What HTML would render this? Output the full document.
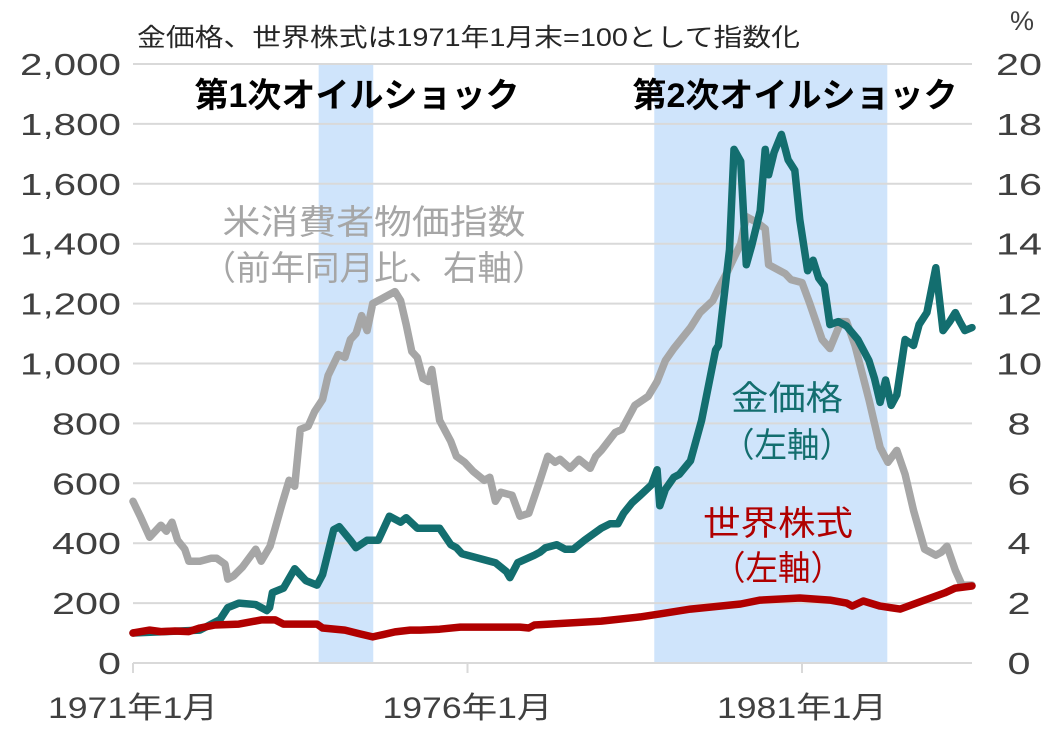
<!DOCTYPE html>
<html><head><meta charset="utf-8">
<style>
html,body{margin:0;padding:0;background:#fff;}
svg{display:block;font-family:"Liberation Sans","Noto Sans CJK JP",sans-serif;}
</style></head>
<body>
<svg id="chart" width="1052" height="729" viewBox="0 0 1052 729" xmlns="http://www.w3.org/2000/svg">
<g id="bands"></g>
<g id="grid"></g>
<g id="axes"></g>
<g id="series"></g>
<g id="labels"></g>
</svg>
<script>
// months since Jan 1971
const goldMonths=[0,12,15.6,17,19,22,24,24.5,25,27,29,31,33,34,36,37,39,40,42,44,46,48,49,51,55,57,58,59,60,65,67,67.6,69,72,73,74,76,77.5,79,81,84,85.6,87,88,89.5,91,93,94,94.5,95.5,97,98,100,102,104.5,105,107,107.8,109,110,111,112.5,113.4,114,115,116.3,117.5,118.7,119.6,121,122,123,124,125,126.5,128,130,132,133,134,135,136,137,138.5,140,141,142.4,144,145.3,146.5,147.5,148.3,149.2,150.5];
const goldValues=[100,110,145,185,200,195,175,185,235,250,315,275,260,295,445,455,410,385,410,410,490,470,485,450,450,395,385,365,360,335,305,285,335,360,370,385,395,380,380,410,450,465,465,500,535,560,595,645,525,580,620,630,675,810,1045,1060,1380,1715,1675,1330,1395,1510,1715,1630,1705,1765,1680,1645,1480,1310,1345,1285,1260,1130,1140,1125,1080,1010,950,870,945,860,895,1080,1060,1130,1170,1320,1110,1140,1170,1140,1110,1120];
const cpiMonths=[0,1.3,3,5,6,7,8,9.3,10,12,14,15,16.5,17,18,19.6,22,23,24.6,26.7,28,29,30,31.4,32.6,34,35,36.8,38,39,40,41,42,43,45,47,48,49,50,51,52,53,53.6,55,57,58,59.5,61,63,64,65,66,68,69.4,71,73,74.4,75.7,76.6,78.4,80,82,83,84,86.5,87.7,90,92.4,94,95.5,97,100,101.7,104,105,106.7,109,110,112,113.4,114,117,118,120,121.4,123.6,125,127,128,129.5,132,134,135.4,137,138.5,140,142,144,145,146,147.5,148.7,150.5];
const cpiValues=[5.4,4.9,4.2,4.6,4.4,4.7,4.1,3.8,3.4,3.4,3.5,3.5,3.3,2.8,2.9,3.2,3.8,3.4,3.9,5.3,6.1,5.9,7.8,7.9,8.4,8.8,9.6,10.3,10.2,10.8,11.0,11.6,11.1,12.0,12.2,12.4,12.1,11.3,10.4,10.2,9.5,9.4,9.8,8.1,7.4,6.9,6.7,6.4,6.1,6.2,5.4,5.7,5.6,4.9,5.0,6.1,6.9,6.7,6.8,6.5,6.8,6.5,6.9,7.1,7.7,7.8,8.6,8.9,9.4,10.1,10.5,11.2,11.7,12.1,12.5,13.1,14.0,14.9,14.7,14.5,13.3,13.0,12.8,12.7,12.0,10.8,10.5,11.4,11.4,10.6,8.8,7.2,6.7,7.1,6.3,5.1,3.8,3.6,3.7,3.9,3.1,2.6,2.6];
const stockMonths=[0,3,5,7.5,10,12,14.7,19,23,25.5,27,33,34,38,40.7,43,44.7,47,49.7,51.5,55,58.7,69.4,71,72,84,91,94.5,100,109,112.5,119.6,125,128,129,131,134,137.6,142,145.6,147.5,150.5];
const stockValues=[100,110,105,107,105,117,127,130,144,144,130,130,117,110,97,87,94,104,110,110,113,120,120,117,127,140,154,164,180,197,210,217,210,200,190,207,190,180,210,234,250,257];
const leftTicks=["0","200","400","600","800","1,000","1,200","1,400","1,600","1,800","2,000"];
const rightTicks=["0","2","4","6","8","10","12","14","16","18","20"];
const xTickMonths=[0,60,120];
const xTickLabels=["1971年1月","1976年1月","1981年1月"];
const bandStart=[33.3,93.5];
const bandEnd=[43.1,135.3];

const NS="http://www.w3.org/2000/svg";
const X0=133,Y0=663,PXM=5.575,PLOTR=972;
const xs=m=>X0+m*PXM;
const yl=v=>Y0-v*0.2995;
const yr=p=>Y0-p*29.95;
function mk(tag,attrs,parent,txt){const e=document.createElementNS(NS,tag);for(const k in attrs)e.setAttribute(k,attrs[k]);if(txt!==undefined)e.textContent=txt;document.getElementById(parent).appendChild(e);return e;}
function numW(s){let w=0;for(const c of s)w+=(c===','?9:23);return w;}

bandStart.forEach((s,i)=>{
  const r=mk('rect',{x:xs(s),y:64,width:xs(bandEnd[i])-xs(s),height:Y0-64,fill:'#cfe4fb'},'bands');
  
  
});
leftTicks.forEach((t,i)=>{
  const v=i*200;
  if(i>0){const g=mk('line',{x1:X0,x2:PLOTR,y1:yl(v),y2:yl(v),stroke:'#d9d9d9','stroke-width':2},'grid');
  
  }
  const l=mk('text',{x:121,y:yl(v)+11,'text-anchor':'end','font-size':31,fill:'#404040',textLength:numW(t),lengthAdjust:'spacingAndGlyphs'},'axes',t);
  
  
});
rightTicks.forEach((t,i)=>{
  const l=mk('text',{x:1019,y:yr(i*2)+11,'text-anchor':'middle','font-size':31,fill:'#404040',textLength:numW(t),lengthAdjust:'spacingAndGlyphs'},'axes',t);
  
  
});
const ax=mk('line',{x1:X0,x2:PLOTR,y1:Y0,y2:Y0,stroke:'#d9d9d9','stroke-width':2},'axes');


xTickMonths.forEach((m,i)=>{
  const tk=mk('line',{x1:xs(m),x2:xs(m),y1:Y0,y2:Y0+10,stroke:'#d9d9d9','stroke-width':2},'axes');
  
  
  const l=mk('text',{x:xs(m),y:718,'text-anchor':'middle','font-size':30,fill:'#404040',textLength:170,lengthAdjust:'spacingAndGlyphs'},'axes',xTickLabels[i]);
  
  
});
function line(ms,vs,yf,color,w,name){
  const d=ms.map((m,i)=>(i?'L':'M')+xs(m).toFixed(1)+' '+yf(vs[i]).toFixed(1)).join(' ');
  const p=mk('path',{d:d,fill:'none',stroke:color,'stroke-width':w,'stroke-linejoin':'round','stroke-linecap':'round'},'series');
  
  
}
line(cpiMonths,cpiValues,yr,'#a6a6a6',7.5,'cpi-line');
line(goldMonths,goldValues,yl,'#136e6f',7.5,'gold-line');
line(stockMonths,stockValues,yl,'#b00000',7.5,'world-stock-line');
</script>
<script>
(function(){
const NS="http://www.w3.org/2000/svg";
function t(x,y,s,txt,fill,name,w,anchor,len){const e=document.createElementNS(NS,'text');e.setAttribute('x',x);e.setAttribute('y',y);e.setAttribute('font-size',s);e.setAttribute('fill',fill);e.setAttribute('text-anchor',anchor||'middle');if(w)e.setAttribute('font-weight',w);if(len){e.setAttribute('textLength',len);e.setAttribute('lengthAdjust','spacingAndGlyphs');}e.textContent=txt;


document.getElementById('labels').appendChild(e);}
t(137,46,25,'金価格、世界株式は1971年1月末=100として指数化','#262626','chart-subtitle',null,'start',663);
t(1022,30,27,'%','#404040','right-axis-unit');
t(357,107,34,'第1次オイルショック','#000','oil-shock-1-label','bold','middle',325);
t(795,107,34,'第2次オイルショック','#000','oil-shock-2-label','bold','middle',325);
t(374,234,34,'米消費者物価指数','#a6a6a6','cpi-label',null,'middle',303);
t(374,280,34,'（前年同月比、右軸）','#a6a6a6','cpi-label-axis',null,'middle',345);
t(787,410,34,'金価格','#136e6f','gold-label',null,'middle',112);
t(787,457,34,'（左軸）','#136e6f','gold-label-axis',null,'middle',130);
t(778,535,34,'世界株式','#b00000','stock-label',null,'middle',150);
t(778,580,34,'（左軸）','#b00000','stock-label-axis',null,'middle',130);
})();
</script>
</body></html>
